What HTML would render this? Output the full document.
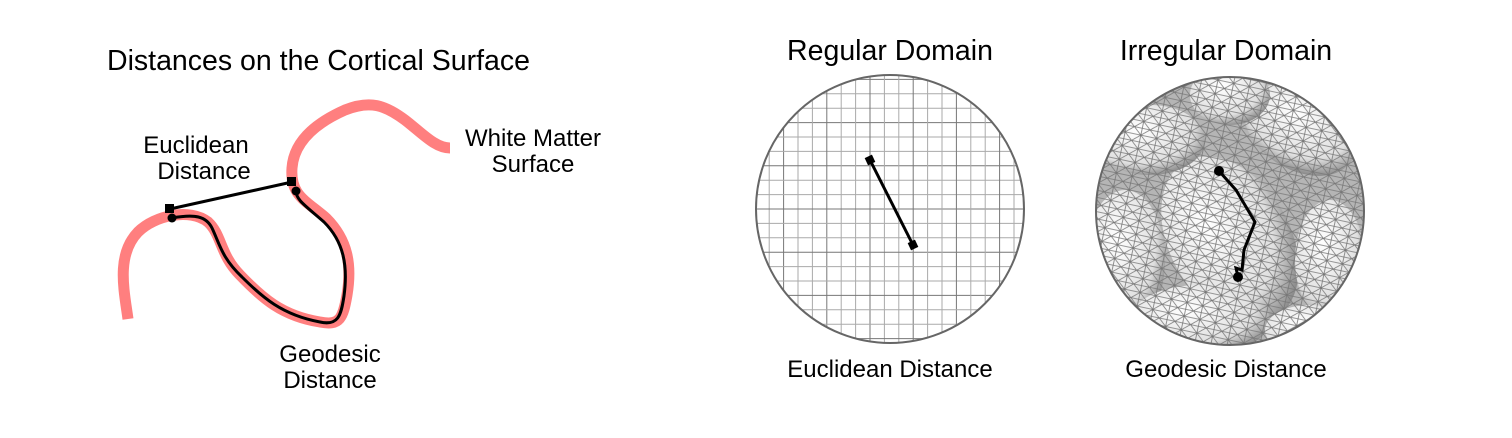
<!DOCTYPE html>
<html><head><meta charset="utf-8"><style>
html,body{margin:0;padding:0;background:#fff;}
svg{display:block;font-family:"Liberation Sans",Arial,sans-serif;}
</style></head><body>
<svg width="1512" height="438" viewBox="0 0 1512 438">
<defs>
<pattern id="mesh" width="16" height="14" patternUnits="userSpaceOnUse" patternTransform="rotate(12)">
<path d="M0 0 L16 0 M0 7 L16 7 M0 14 L16 14 M0 0 L8 7 L0 14 M16 0 L8 7 L16 14 M8 0 L8 14" stroke="#777" stroke-width="0.8" fill="none"/>
</pattern>
<clipPath id="c2"><circle cx="1230" cy="211" r="134"/></clipPath>
<clipPath id="c1"><circle cx="890" cy="209" r="134"/></clipPath>
<radialGradient id="blob" cx="0.4" cy="0.35" r="0.7"><stop offset="0" stop-color="#fff"/><stop offset="0.7" stop-color="#e0e0e0"/><stop offset="1" stop-color="#808080"/></radialGradient>
</defs>

<text x="107" y="70" font-size="28.5">Distances on the Cortical Surface</text>
<path d="M128 319 C124 290 116 255 138 232 C155 215 190 208 208 222 C222 235 220 255 240 275 C262 298 282 316 320 322 C340 326 343 318 347 295 C352 265 348 240 326 218 C305 200 290 195 292 168 C294 140 318 122 345 110 C370 100 385 105 405 120 C422 133 435 148 450 148" fill="none" stroke="#ff7f7f" stroke-width="11" stroke-linecap="butt"/>
<path d="M172 218 C195 214 206 216 212 228 C220 245 222 258 242 277 C262 297 282 315 320 322 C338 326 341 316 344 296 C348 266 344 242 324 222 C306 206 296 200 296 191" fill="none" stroke="#000" stroke-width="3"/>
<circle cx="172" cy="218" r="4.5" fill="#000"/>
<circle cx="296" cy="191" r="4.5" fill="#000"/>
<line x1="170" y1="209" x2="292" y2="182" stroke="#000" stroke-width="3"/>
<rect x="165" y="204" width="9" height="9" fill="#000"/>
<rect x="287" y="177" width="9" height="9" fill="#000"/>
<text font-size="24" text-anchor="middle"><tspan x="196" y="153">Euclidean</tspan><tspan x="204" y="179">Distance</tspan></text>
<text font-size="24" text-anchor="middle"><tspan x="533" y="146">White Matter</tspan><tspan x="533" y="172">Surface</tspan></text>
<text font-size="24" text-anchor="middle"><tspan x="330" y="362">Geodesic</tspan><tspan x="330" y="388">Distance</tspan></text>

<text x="890" y="60" font-size="28.5" text-anchor="middle">Regular Domain</text>
<g clip-path="url(#c1)" id="grid"></g>
<circle cx="890" cy="209" r="134" fill="none" stroke="#666" stroke-width="2"/>
<line x1="870" y1="160" x2="913" y2="245" stroke="#000" stroke-width="3"/>
<rect x="866" y="156" width="8" height="8" fill="#000" transform="rotate(-25 870 160)"/>
<rect x="909" y="241" width="8" height="8" fill="#000" transform="rotate(-25 913 245)"/>
<text x="890" y="377" font-size="24" text-anchor="middle">Euclidean Distance</text>

<text x="1226" y="60" font-size="28.5" text-anchor="middle">Irregular Domain</text>
<g clip-path="url(#c2)">
<rect x="1090" y="70" width="290" height="290" fill="#b5b5b5"/>
<ellipse cx="1230" cy="240" rx="60" ry="90" fill="url(#blob)" transform="rotate(-30 1230 240)"/>
<ellipse cx="1150" cy="140" rx="55" ry="35" fill="url(#blob)"/>
<ellipse cx="1300" cy="130" rx="60" ry="40" fill="url(#blob)" transform="rotate(30 1300 130)"/>
<ellipse cx="1125" cy="260" rx="40" ry="70" fill="url(#blob)"/>
<ellipse cx="1330" cy="260" rx="35" ry="60" fill="url(#blob)"/>
<ellipse cx="1200" cy="320" rx="70" ry="35" fill="url(#blob)"/>
<ellipse cx="1310" cy="330" rx="45" ry="25" fill="url(#blob)"/>
<ellipse cx="1230" cy="95" rx="40" ry="30" fill="url(#blob)"/>
<rect x="1090" y="70" width="290" height="290" fill="url(#mesh)"/>
</g>
<circle cx="1230" cy="211" r="134" fill="none" stroke="#666" stroke-width="2"/>
<polyline points="1219,171 1236,190 1255,222 1244,250 1242,270 1236,268 1238,277" fill="none" stroke="#000" stroke-width="3"/>
<circle cx="1219" cy="171" r="5" fill="#000"/>
<circle cx="1238" cy="277" r="5" fill="#000"/>
<text x="1226" y="377" font-size="24" text-anchor="middle">Geodesic Distance</text>
</svg>
<script>
const g=document.getElementById('grid');const ns='http://www.w3.org/2000/svg';
for(let i=-10;i<=10;i++){const p=870+i*14.4,q=209+i*14.4;
const a=document.createElementNS(ns,'line');a.setAttribute('x1',p);a.setAttribute('x2',p);a.setAttribute('y1',70);a.setAttribute('y2',350);a.setAttribute('stroke',i%3===0?'#777':'#aaa');a.setAttribute('stroke-width','1');


g.appendChild(a);
const b=document.createElementNS(ns,'line');b.setAttribute('y1',q);b.setAttribute('y2',q);b.setAttribute('x1',750);b.setAttribute('x2',1030);b.setAttribute('stroke',i%3===0?'#777':'#aaa');b.setAttribute('stroke-width','1');


g.appendChild(b);}
</script>
</body></html>
